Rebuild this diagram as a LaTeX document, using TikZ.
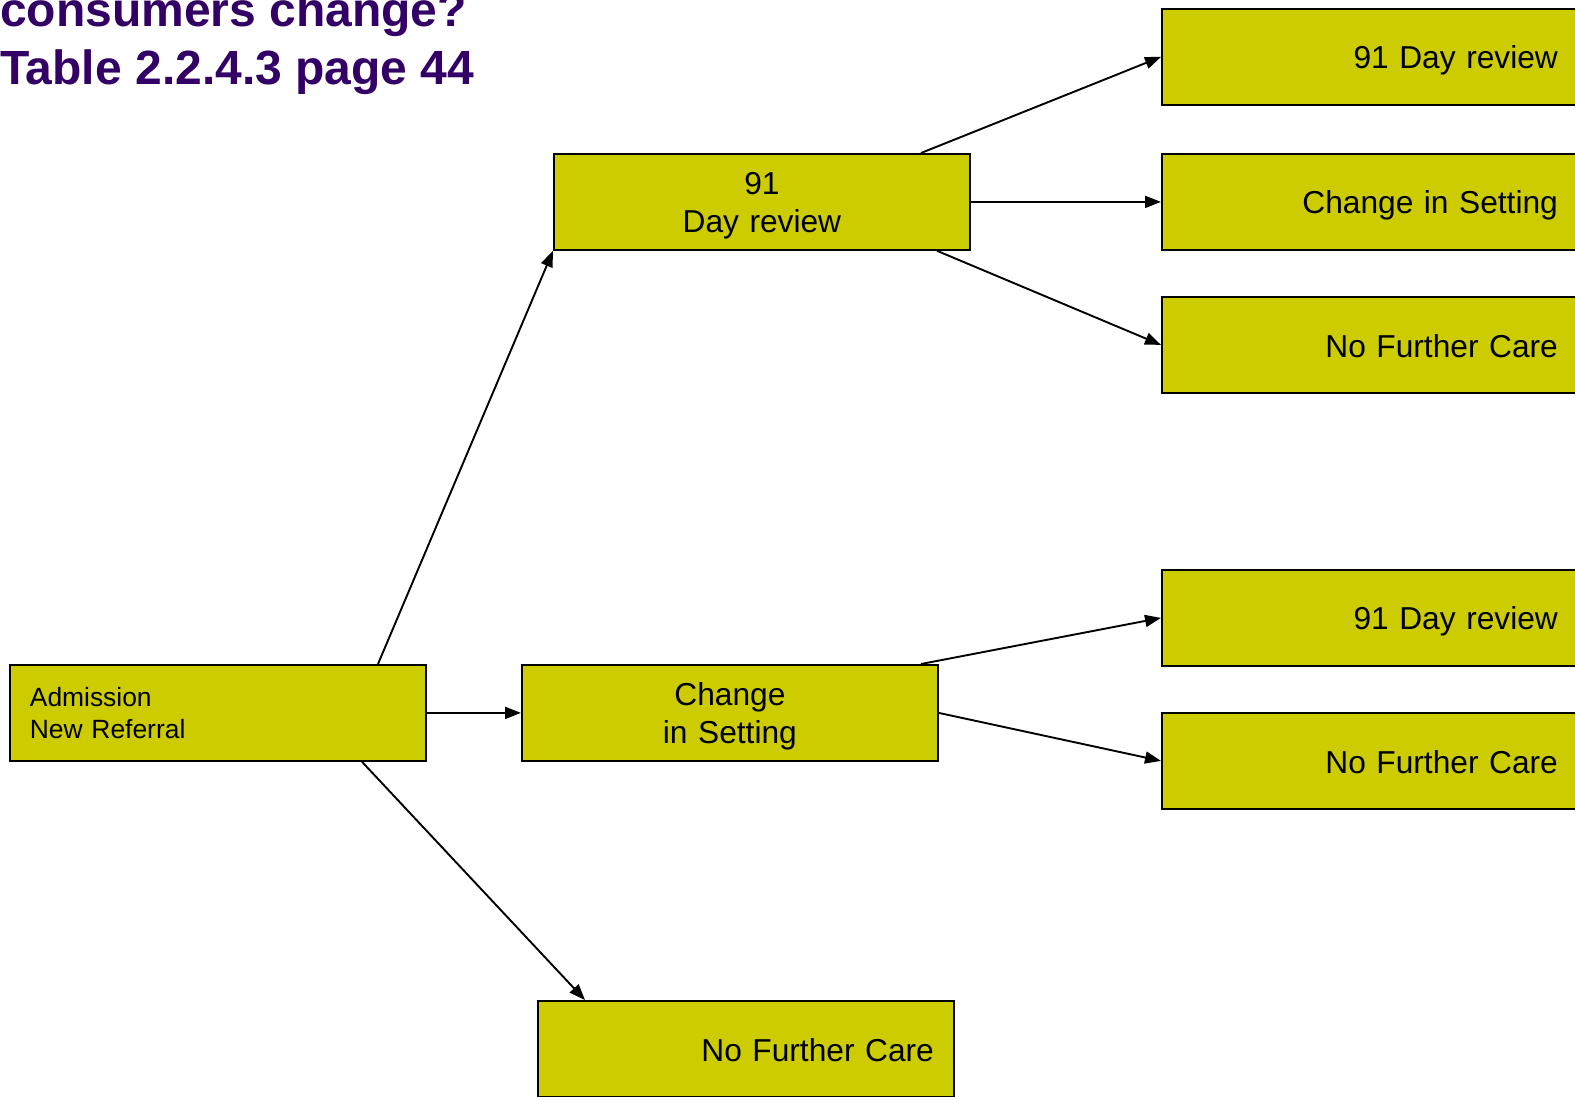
\documentclass[tikz,border=0pt]{standalone}
\usepackage{fontspec}
\setmainfont{Liberation Sans}
\usetikzlibrary{arrows.meta,calc}
\definecolor{boxfill}{RGB}{204,204,0}
\definecolor{titlepurple}{RGB}{51,0,102}
\newcommand\bxstrut{\rule[-6pt]{0pt}{36.5pt}}
\begin{document}
\begin{tikzpicture}[x=1pt,y=-1pt,
  box/.style={draw=black, line width=1.8pt, fill=boxfill, anchor=north west,
    minimum width=416pt, minimum height=96pt, inner sep=0pt, text width=376pt,
    font=\fontsize{31.7}{38}\selectfont},
  rbox/.style={box, align=right},
  cbox/.style={box, align=center},
  lbox/.style={box, align=left, font=\fontsize{26.4}{32}\selectfont},
  conn/.style={line width=1.9pt, -{Triangle[length=16pt,width=12pt]}},
  ttl/.style={anchor=base west, inner sep=0pt, text=titlepurple,
    font=\fontsize{48}{58}\selectfont\bfseries}]
\clip (0,0) rectangle (1575,1096);
\fill[white] (0,0) rectangle (1575,1096);

\node[ttl] (t1) at (0,26) {consumers change?};
\node[ttl] (t2) at (0,84) {Table 2.2.4.3 page 44};

\node[lbox] (adm) at (9,664) {Admission\\New Referral};
\node[cbox] (mid91) at (553,153) {\bxstrut 91\\\bxstrut Day review};
\node[cbox] (midchg) at (521,664) {\bxstrut Change\\\bxstrut in Setting};
\node[rbox] (midnfc) at (537,1000) {\bxstrut No Further Care};

\node[rbox] (r1) at (1161,8) {\bxstrut 91 Day review};
\node[rbox] (r2) at (1161,153) {\bxstrut Change in Setting};
\node[rbox] (r3) at (1161,296) {\bxstrut No Further Care};
\node[rbox] (r4) at (1161,569) {\bxstrut 91 Day review};
\node[rbox] (r5) at (1161,712) {\bxstrut No Further Care};

\draw[conn] ([xshift=369pt]adm.north west) -- (mid91.south west);
\draw[conn] (adm.east) -- (midchg.west);
\draw[conn] ([xshift=353pt]adm.south west) -- ([xshift=48pt]midnfc.north west);
\draw[conn] ([xshift=368pt]mid91.north west) -- (r1.west);
\draw[conn] (mid91.east) -- (r2.west);
\draw[conn] ([xshift=384pt]mid91.south west) -- (r3.west);
\draw[conn] ([xshift=400pt]midchg.north west) -- (r4.west);
\draw[conn] (midchg.east) -- (r5.west);
\end{tikzpicture}
\end{document}
